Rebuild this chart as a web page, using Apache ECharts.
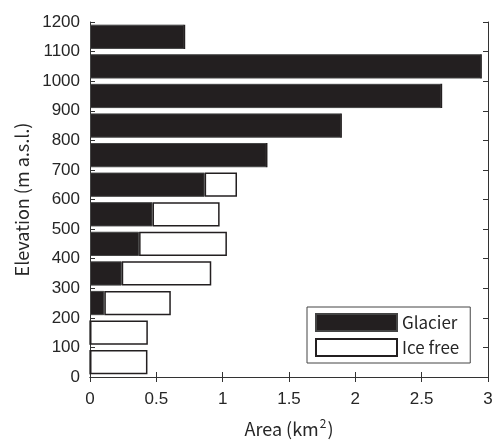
<!DOCTYPE html>
<html><head><meta charset="utf-8">
<script src="https://cdn.jsdelivr.net/npm/echarts@6/dist/echarts.min.js"></script>
<style>html,body{margin:0;padding:0;background:#fff}#c{width:493px;height:442px}</style>
</head><body><div id="c"></div>
<script>
const elevationBands = ['0-100','100-200','200-300','300-400','400-500','500-600','600-700','700-800','800-900','900-1000','1000-1100','1100-1200'];
const glacier = [0, 0, 0.108, 0.239, 0.370, 0.471, 0.864, 1.332, 1.893, 2.649, 2.948, 0.712];
const iceFree = [0.433, 0.436, 0.501, 0.675, 0.662, 0.506, 0.244, 0, 0, 0, 0, 0];
const xTicks = [0, 0.5, 1, 1.5, 2, 2.5, 3];
const yTicks = [0,100,200,300,400,500,600,700,800,900,1000,1100,1200];

const chart = echarts.init(document.getElementById('c'), null, {renderer:'canvas'});
const txt = '#262626';
const font = '"Liberation Sans", Arial, sans-serif';
const jp = '"Noto Sans CJK JP", sans-serif';
chart.setOption({
  animation:false,
  backgroundColor:'#fff',
  grid:{left:90,right:5,top:22,bottom:65,containLabel:false,outerBoundsMode:'none'},
  legend:{
    orient:'vertical', left:307, top:307,
    data:['Glacier','Ice free'],
    itemWidth:81, itemHeight:17, itemGap:6,
    borderColor:'#444', borderWidth:1, padding:[6,11,6,8],
    backgroundColor:'#fff',
    textStyle:{fontFamily:jp, fontSize:17, color:txt},
    icon:'rect'
  },
  xAxis:[{
    type:'value', min:0, max:3, interval:0.5, position:'bottom',
    axisLine:{show:true, lineStyle:{color:'#333',width:1}},
    axisTick:{show:true, inside:true, length:5, lineStyle:{color:'#333'}},
    splitLine:{show:false},
    axisLabel:{fontFamily:font, fontSize:17, color:txt, margin:14, formatter:v=>String(v)},
    name:'{a|Area (km}{s|2}{a|)}', nameLocation:'middle', nameGap:40,
    nameTextStyle:{rich:{a:{fontFamily:jp,fontSize:18,color:txt},s:{fontFamily:jp,fontSize:12,color:txt,padding:[0,1,12,1]}}}
  },{
    type:'value', min:0, max:3, interval:0.5, position:'top',
    axisLine:{show:true, lineStyle:{color:'#333',width:1}},
    axisTick:{show:true, inside:true, length:5, lineStyle:{color:'#333'}},
    axisLabel:{show:false}, splitLine:{show:false}
  }],
  yAxis:[{
    type:'category', data:elevationBands, position:'left',
    axisLine:{show:false}, axisTick:{show:false}, axisLabel:{show:false}, splitLine:{show:false}
  },{
    type:'value', min:0, max:1200, interval:100, position:'left',
    axisLine:{show:true, onZero:false, lineStyle:{color:'#333',width:1}},
    axisTick:{show:true, inside:true, length:5, lineStyle:{color:'#333'}},
    splitLine:{show:false},
    axisLabel:{fontFamily:font, fontSize:17, color:txt, margin:10, formatter:v=>String(v)},
    name:'Elevation (m a.s.l.)', nameLocation:'middle', nameGap:58, nameRotate:90,
    nameTextStyle:{fontFamily:jp, fontSize:18, color:txt}
  },{
    type:'value', min:0, max:1200, interval:100, position:'right',
    axisLine:{show:true, onZero:false, lineStyle:{color:'#333',width:1}},
    axisTick:{show:true, inside:true, length:5, lineStyle:{color:'#333'}},
    axisLabel:{show:false}, splitLine:{show:false}
  }],
  series:[{
    name:'Glacier', type:'bar', stack:'a', yAxisIndex:0, xAxisIndex:0,
    data:glacier, barCategoryGap:'18%',
    itemStyle:{color:'#231f20', borderColor:'#444', borderWidth:1}
  },{
    name:'Ice free', type:'bar', stack:'a', yAxisIndex:0, xAxisIndex:0,
    data:iceFree, barCategoryGap:'18%',
    itemStyle:{color:'#fff', borderColor:'#231f20', borderWidth:1.5}
  }]
});
</script></body></html>
